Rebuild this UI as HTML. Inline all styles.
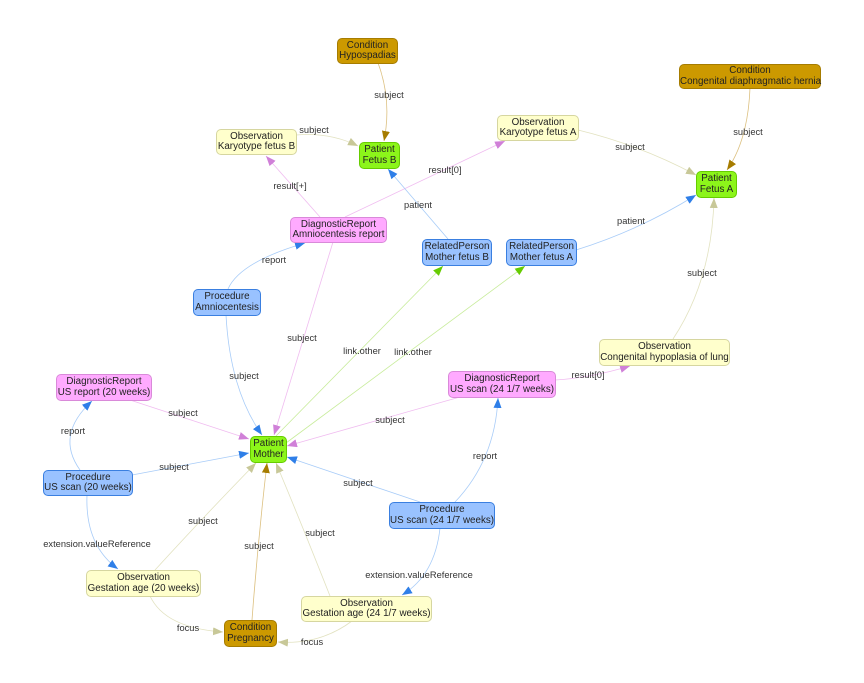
<!DOCTYPE html>
<html><head><meta charset="utf-8"><style>
body{margin:0;width:864px;height:683px;background:#fff;position:relative;overflow:hidden;font-family:"Liberation Sans",sans-serif}
svg{position:absolute;left:0;top:0}
.n{position:absolute;box-sizing:border-box;border:1.5px solid;border-radius:5px;font-size:9.8px;line-height:10.5px;text-align:center;color:#222;display:flex;flex-direction:column;justify-content:center;white-space:nowrap}
.c{background:#cc9900;border-color:#a67c00}
.o{background:#ffffcc;border-color:#d6d6a0}
.p{background:#8cf51a;border-color:#66cc00}
.d{background:#ffaaff;border-color:#d98ad9}
.b{background:#99c2ff;border-color:#3a7fe0}
.l{position:absolute;font-size:9.3px;color:#333;white-space:nowrap;transform:translate(-50%,-50%)}
</style></head><body>
<svg width="864" height="683" fill="none">
<defs>
<marker id="mb" markerUnits="userSpaceOnUse" markerWidth="12" markerHeight="10" refX="10" refY="4" orient="auto"><path d="M0,0L10,4L0,8z" fill="#2f7fe8"/></marker>
<marker id="mp" markerUnits="userSpaceOnUse" markerWidth="12" markerHeight="10" refX="10" refY="4" orient="auto"><path d="M0,0L10,4L0,8z" fill="#d080d8"/></marker>
<marker id="mg" markerUnits="userSpaceOnUse" markerWidth="12" markerHeight="10" refX="10" refY="4" orient="auto"><path d="M0,0L10,4L0,8z" fill="#66cc00"/></marker>
<marker id="mk" markerUnits="userSpaceOnUse" markerWidth="12" markerHeight="10" refX="10" refY="4" orient="auto"><path d="M0,0L10,4L0,8z" fill="#c8c898"/></marker>
<marker id="mr" markerUnits="userSpaceOnUse" markerWidth="12" markerHeight="10" refX="10" refY="4" orient="auto"><path d="M0,0L10,4L0,8z" fill="#a67c00"/></marker>
</defs>
<g stroke-width="0.8">
<g stroke="#dcc080" marker-end="url(#mr)">
<path d="M378,63 Q392,100 384,141"/>
<path d="M750,88 Q748,140 727,170"/>
<path d="M252,620 Q258,540 267,463"/>
</g>
<g stroke="#e2e2c0" marker-end="url(#mk)">
<path d="M296,135 Q330,132 358,146"/>
<path d="M578,130 Q640,145 696,175"/>
<path d="M673,339 Q712,280 714,198"/>
<path d="M155,570 Q210,510 256,463"/>
<path d="M330,596 Q300,520 276,463"/>
<path d="M150,596 Q165,628 223,632"/>
<path d="M352,621 Q320,645 278,642"/>
</g>
<g stroke="#f0bcf0" marker-end="url(#mp)">
<path d="M320,217 L266,156"/>
<path d="M345,217 L505,141"/>
<path d="M333,242 L274,435"/>
<path d="M555,380 Q590,378 630,366"/>
<path d="M130,400 L249,439"/>
<path d="M460,397 L287,446"/>
</g>
<g stroke="#a8ccf8" marker-end="url(#mb)">
<path d="M448,239 L388,169"/>
<path d="M576,250 Q640,230 696,195"/>
<path d="M228,289 Q240,262 305,243"/>
<path d="M226,315 Q230,390 262,435"/>
<path d="M80,470 Q55,435 92,401"/>
<path d="M132,475 L249,453"/>
<path d="M420,502 L287,457"/>
<path d="M455,502 Q495,460 498,398"/>
<path d="M87,495 Q85,545 118,569"/>
<path d="M440,528 Q435,575 402,595"/>
</g>
<g stroke="#c8ec9c" marker-end="url(#mg)">
<path d="M276,436 L443,266"/>
<path d="M286,443 L525,266"/>
</g>
</g>
</svg>
<div class="n c" style="left:337px;top:38px;width:61px;height:26px">Condition<br>Hypospadias</div>
<div class="n c" style="left:679px;top:64px;width:142px;height:25px">Condition<br>Congenital diaphragmatic hernia</div>
<div class="n o" style="left:216px;top:129px;width:81px;height:26px">Observation<br>Karyotype fetus B</div>
<div class="n p" style="left:359px;top:142px;width:41px;height:27px">Patient<br>Fetus B</div>
<div class="n o" style="left:497px;top:115px;width:82px;height:26px">Observation<br>Karyotype fetus A</div>
<div class="n p" style="left:696px;top:171px;width:41px;height:27px">Patient<br>Fetus A</div>
<div class="n d" style="left:290px;top:217px;width:97px;height:26px">DiagnosticReport<br>Amniocentesis report</div>
<div class="n b" style="left:422px;top:239px;width:70px;height:27px">RelatedPerson<br>Mother fetus B</div>
<div class="n b" style="left:506px;top:239px;width:71px;height:27px">RelatedPerson<br>Mother fetus A</div>
<div class="n b" style="left:193px;top:289px;width:68px;height:27px">Procedure<br>Amniocentesis</div>
<div class="n o" style="left:599px;top:339px;width:131px;height:27px">Observation<br>Congenital hypoplasia of lung</div>
<div class="n d" style="left:56px;top:374px;width:96px;height:27px">DiagnosticReport<br>US report (20 weeks)</div>
<div class="n d" style="left:448px;top:371px;width:108px;height:27px">DiagnosticReport<br>US scan (24 1/7 weeks)</div>
<div class="n p" style="left:250px;top:436px;width:37px;height:27px">Patient<br>Mother</div>
<div class="n b" style="left:43px;top:470px;width:90px;height:26px">Procedure<br>US scan (20 weeks)</div>
<div class="n b" style="left:389px;top:502px;width:106px;height:27px">Procedure<br>US scan (24 1/7 weeks)</div>
<div class="n o" style="left:86px;top:570px;width:115px;height:27px">Observation<br>Gestation age (20 weeks)</div>
<div class="n c" style="left:224px;top:620px;width:53px;height:27px">Condition<br>Pregnancy</div>
<div class="n o" style="left:301px;top:596px;width:131px;height:26px">Observation<br>Gestation age (24 1/7 weeks)</div>
<div class="l" style="left:389px;top:95px">subject</div>
<div class="l" style="left:314px;top:130px">subject</div>
<div class="l" style="left:630px;top:147px">subject</div>
<div class="l" style="left:748px;top:132px">subject</div>
<div class="l" style="left:290px;top:186px">result[+]</div>
<div class="l" style="left:445px;top:170px">result[0]</div>
<div class="l" style="left:418px;top:205px">patient</div>
<div class="l" style="left:631px;top:221px">patient</div>
<div class="l" style="left:274px;top:260px">report</div>
<div class="l" style="left:702px;top:273px">subject</div>
<div class="l" style="left:302px;top:338px">subject</div>
<div class="l" style="left:244px;top:376px">subject</div>
<div class="l" style="left:362px;top:351px">link.other</div>
<div class="l" style="left:413px;top:352px">link.other</div>
<div class="l" style="left:588px;top:375px">result[0]</div>
<div class="l" style="left:183px;top:413px">subject</div>
<div class="l" style="left:390px;top:420px">subject</div>
<div class="l" style="left:73px;top:431px">report</div>
<div class="l" style="left:174px;top:467px">subject</div>
<div class="l" style="left:358px;top:483px">subject</div>
<div class="l" style="left:485px;top:456px">report</div>
<div class="l" style="left:203px;top:521px">subject</div>
<div class="l" style="left:259px;top:546px">subject</div>
<div class="l" style="left:320px;top:533px">subject</div>
<div class="l" style="left:97px;top:544px">extension.valueReference</div>
<div class="l" style="left:419px;top:575px">extension.valueReference</div>
<div class="l" style="left:188px;top:628px">focus</div>
<div class="l" style="left:312px;top:642px">focus</div>
</body></html>
